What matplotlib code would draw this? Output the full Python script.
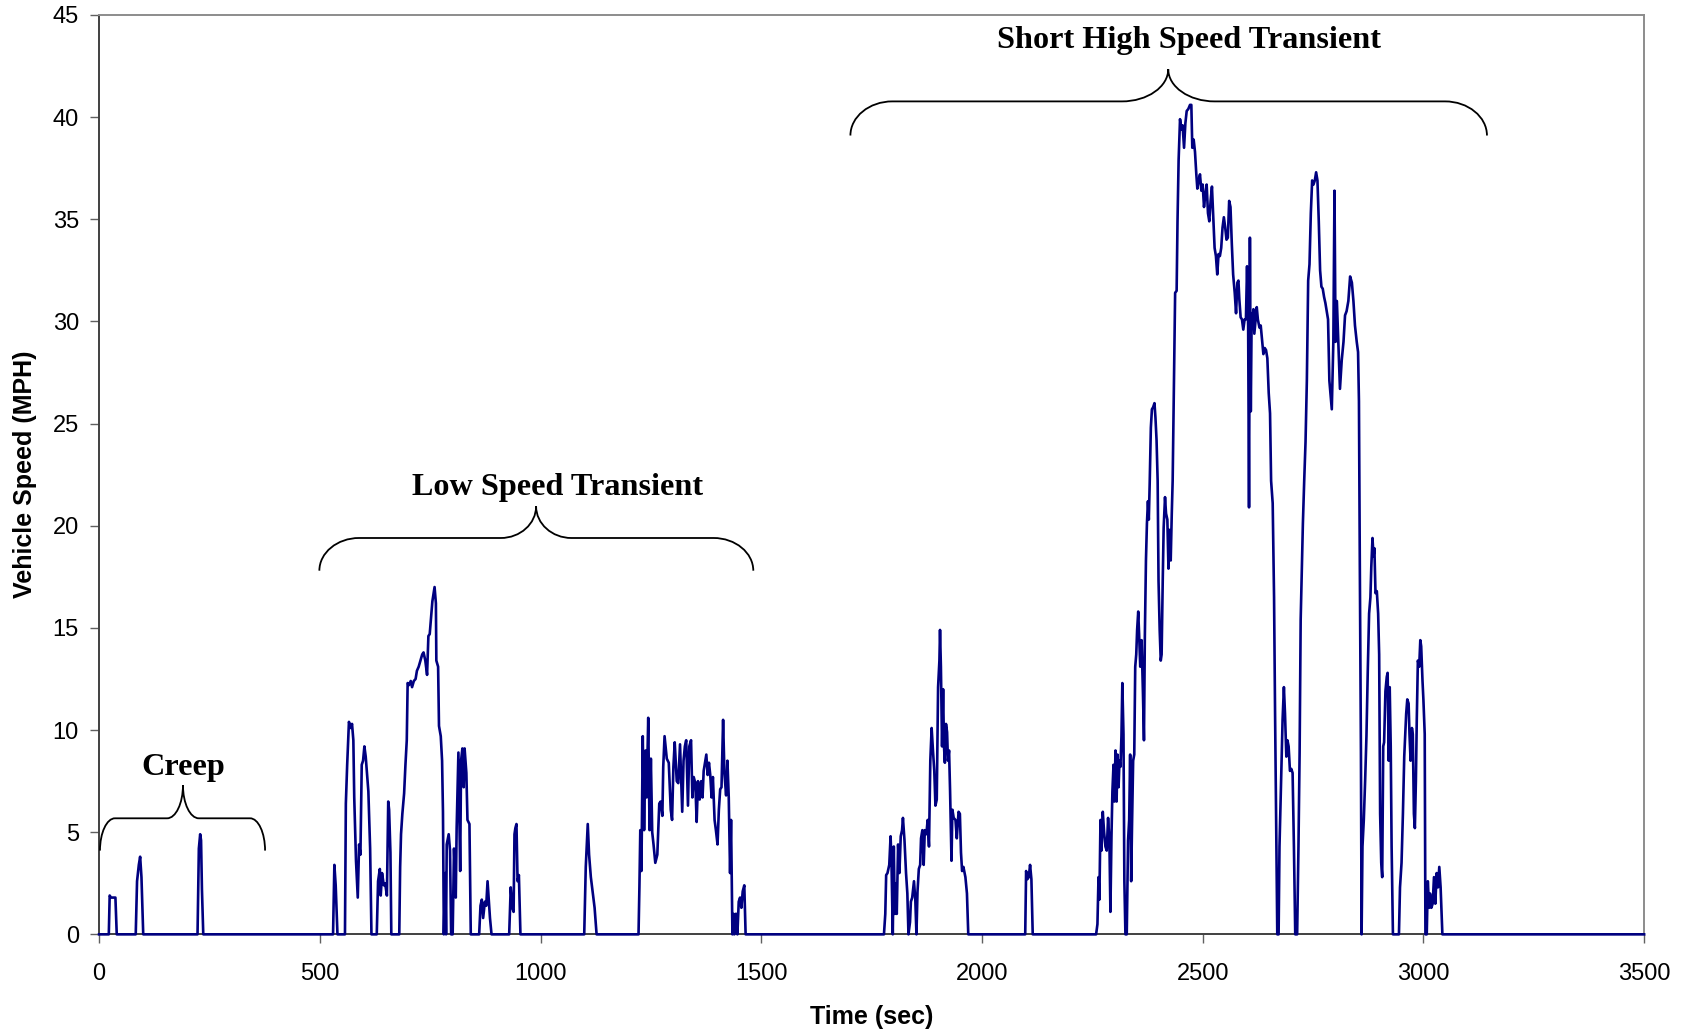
import numpy as np
import matplotlib
matplotlib.use("Agg")
import matplotlib.pyplot as plt
from matplotlib.path import Path
from matplotlib.patches import PathPatch

# ---- drive cycle trace as (time sec, speed MPH) samples, grouped by phase ----
creep_trace = [
    (0, 0), (22, 0), (24, 1.9), (27, 1.8), (37, 1.8), (40, 0),
    (83, 0), (86, 2.6), (90, 3.4), (93, 3.8), (96, 2.8), (100, 0),
    (223, 0), (226, 4.2), (229, 4.9), (231, 4.6), (233, 2.2), (236, 0),
]

low_speed_trace = [
    (530, 0), (533, 3.4), (536, 2.4), (540, 0),
    (557, 0), (559, 6.4), (562, 8.3), (566, 10.4), (570, 10.1), (573, 10.3), (576, 9.5),
    (578, 6.7), (582, 3.6), (586, 1.8), (589, 4.4), (592, 3.9), (595, 8.3), (598, 8.5),
    (601, 9.2), (604, 8.7), (610, 7.0), (614, 4.2), (617, 0),
    (629, 0), (632, 2.6), (636, 3.2), (638, 1.9), (641, 3.0), (645, 2.4), (648, 2.5),
    (652, 1.9), (655, 6.5), (657, 6.1), (660, 4.0), (662, 0),
    (680, 0), (682, 3.3), (684, 4.9), (687, 5.9), (691, 6.9), (694, 8.3), (697, 9.5),
    (699, 12.3), (702, 12.2), (706, 12.4), (709, 12.1), (713, 12.4), (717, 12.5), (720, 12.9),
    (724, 13.1), (728, 13.4), (732, 13.7), (735, 13.8), (739, 13.4), (743, 12.7), (746, 14.6),
    (749, 14.7), (752, 15.5), (755, 16.3), (760, 17.0), (763, 16.2), (764, 13.4), (768, 13.1),
    (770, 10.2), (774, 9.7), (777, 8.5), (779, 6.0), (781, 0), (784, 3.0), (786, 0),
    (787.5, 4.4), (792, 4.9), (795, 4.1), (797.5, 0), (801, 0), (804, 4.2), (808, 1.8),
    (810, 5.2), (814, 8.9), (818, 3.1), (820, 8.5), (823, 9.1), (826, 7.2), (828, 9.1),
    (832, 7.9), (834.5, 5.6), (839, 5.4), (842, 0),
    (861, 0), (864, 1.4), (867, 1.7), (870, 0.8), (874, 1.6), (877, 1.4), (880, 2.6),
    (883, 1.6), (885.5, 0.8), (889, 0),
    (929, 0), (932.5, 2.3), (936, 1.3), (939, 1.1), (941, 4.9), (943, 5.2), (945.5, 5.4),
    (948, 2.6), (951, 2.9), (954.5, 0),
    (1099, 0), (1102.5, 3.3), (1107, 5.4), (1110, 3.9), (1114, 2.8), (1118, 2.1),
    (1122.5, 1.3), (1125, 0.6), (1127, 0),
    (1222, 0), (1224, 2.3), (1226, 5.1), (1228.6, 3.1), (1231.6, 9.7), (1234.6, 5.1),
    (1238, 9.0), (1240.4, 6.7), (1244, 10.6), (1247, 5.1), (1250, 8.6), (1253, 5.0),
    (1256, 4.4), (1260, 3.5), (1264.6, 3.9), (1269, 6.4), (1272, 6.5), (1276, 5.8),
    (1278, 8.2), (1281, 9.7), (1286, 8.6), (1290.5, 8.4), (1295, 6.1), (1298, 5.6),
    (1301, 8.2), (1304, 9.4), (1308.6, 7.5), (1312, 7.4), (1316, 9.3), (1321, 6.0),
    (1324, 8.5), (1327, 9.2), (1330, 9.5), (1334, 6.3), (1337, 9.2), (1341, 9.5),
    (1344, 6.7), (1347, 7.7), (1350.7, 7.4), (1353.7, 5.5), (1356.7, 7.5), (1360.5, 6.6),
    (1364, 7.5), (1367, 6.7), (1369.6, 8.0), (1372.6, 8.4), (1375.6, 8.8), (1378.6, 7.8),
    (1381.6, 8.4), (1384.5, 7.8), (1387.5, 6.7), (1390.5, 7.7), (1394.3, 5.6), (1397.3, 5.1),
    (1401, 4.4), (1404, 6.1), (1407, 7.1), (1410, 7.2), (1413.6, 10.5), (1416.6, 7.9),
    (1420.4, 6.8), (1423.4, 8.5), (1426.4, 6.7), (1429.4, 3.0), (1431.6, 5.6), (1434.7, 0),
    (1437, 1.0), (1439, 0), (1441.5, 1.0), (1444, 1.0), (1446, 0), (1449, 1.6), (1452, 1.8),
    (1455, 1.3), (1458, 2.1), (1461.6, 2.4), (1464.6, 0),
]

high_speed_trace = [
    (1778, 0), (1781, 1.0), (1783, 2.9), (1786, 3.0), (1790, 3.4), (1793, 4.8), (1795, 3.6),
    (1798, 0), (1800.3, 4.3), (1802.5, 1.0), (1804.8, 2.5), (1807, 1.0), (1810, 4.4),
    (1813, 3.0), (1816, 4.8), (1819, 5.1), (1821, 5.7), (1824.5, 4.6), (1828, 3.0),
    (1831, 2.0), (1833.5, 0), (1837, 0.6), (1839, 1.6), (1842, 1.8), (1846, 2.6), (1849, 1.7),
    (1851.6, 0), (1854, 2.1), (1857, 3.2), (1860, 3.4), (1862, 4.7), (1865, 5.1), (1868, 3.4),
    (1870.5, 5.1), (1874, 4.9), (1877, 5.6), (1880, 4.3), (1883, 8.5), (1886, 10.1),
    (1889, 9.0), (1892, 8.0), (1894.6, 6.3), (1897.6, 6.6), (1900.6, 12.1), (1903.6, 13.4),
    (1905, 14.9), (1907, 13.1), (1909.6, 9.2), (1912, 12.0), (1914, 9.2), (1916, 8.4),
    (1918.5, 10.3), (1921, 9.9), (1923, 8.5), (1925.5, 9.0), (1927.8, 7.0), (1931, 3.6),
    (1933, 6.1), (1936, 5.7), (1940, 5.6), (1943, 4.7), (1947, 6.0), (1950, 5.9),
    (1952.5, 4.0), (1955, 3.1), (1958, 3.3), (1962.5, 2.8), (1966, 2.0), (1969, 0),
    (2098, 0), (2100, 3.1), (2103, 2.7), (2106, 2.8), (2109, 3.4), (2112, 2.7), (2115, 0),
    (2258.6, 0), (2261.6, 0.5), (2264, 2.8), (2266, 1.7), (2268.5, 5.6), (2270.7, 4.1),
    (2273.7, 6.0), (2276.7, 5.0), (2279.7, 4.3), (2282.7, 4.1), (2285.7, 5.7), (2288.7, 4.6),
    (2291, 1.1), (2293.4, 4.8), (2295.5, 7.0), (2298, 8.3), (2300, 6.5), (2302.5, 9.0),
    (2305, 6.5), (2307, 8.8), (2309.5, 7.2), (2311.5, 8.5), (2313.7, 8.2), (2316, 9.7),
    (2318, 12.3), (2320.6, 9.8), (2322.6, 2.6), (2325, 0), (2328, 0), (2331, 4.6),
    (2333.5, 5.6), (2335.7, 8.8), (2338, 2.6), (2340, 5.4), (2342.5, 8.5), (2345, 8.8),
    (2347.2, 13.1), (2349.5, 13.7), (2351.5, 14.9), (2354, 15.8), (2356, 14.7),
    (2358.6, 13.1), (2361.6, 14.4), (2364.7, 11.8), (2367, 9.5), (2369, 14.6),
    (2371.5, 18.3), (2373.7, 20.1), (2376, 21.2), (2378, 20.3), (2380, 22.1),
    (2382.6, 24.8), (2385, 25.7), (2387.8, 25.8), (2390.8, 26.0), (2393, 25.3),
    (2395.5, 24.2), (2398, 22.2), (2400, 17.3), (2402.6, 14.9), (2405, 13.4), (2407, 13.7),
    (2409.5, 17.3), (2411.6, 19.9), (2414.7, 21.4), (2417, 20.6), (2420, 20.3),
    (2422.5, 17.9), (2424.5, 19.8), (2427.6, 18.3), (2430, 20.6), (2432, 22.2), (2435, 27.1),
    (2437.6, 31.4), (2441, 31.5), (2443, 34.9), (2445.5, 37.9), (2448.7, 39.9),
    (2451.7, 39.4), (2454.5, 39.6), (2457.8, 38.5), (2460.8, 39.7), (2463.8, 40.3),
    (2467.5, 40.4), (2471.3, 40.6), (2474.3, 40.6), (2476.5, 38.5), (2479.6, 38.9),
    (2482.6, 38.3), (2485.6, 37.2), (2487.9, 36.5), (2490.9, 36.9), (2493.9, 37.2),
    (2497, 36.4), (2500, 36.7), (2503, 35.6), (2506, 36.2), (2509, 36.7), (2512, 35.3),
    (2515, 34.9), (2518, 35.9), (2521, 36.6), (2524, 35.1), (2527, 33.6), (2530, 33.2),
    (2533, 32.3), (2536, 33.3), (2539, 33.2), (2542, 33.6), (2545, 34.6), (2548, 35.1),
    (2551, 34.6), (2554, 34.0), (2557, 34.1), (2560, 35.9), (2563, 35.6), (2566, 33.8),
    (2569, 32.3), (2572.6, 31.4), (2575.6, 30.4), (2578.6, 31.9), (2581, 32.0), (2583, 31.1),
    (2586, 30.2), (2589, 30.1), (2592, 29.6), (2595, 30.1), (2598, 30.1), (2600.5, 32.7),
    (2603, 29.8), (2605, 20.9), (2607, 34.1), (2609, 25.6), (2611, 30.4), (2613, 30.1),
    (2615, 30.6), (2617, 29.4), (2620, 30.1), (2622.5, 30.7), (2625, 30.1), (2628.6, 29.7),
    (2631.5, 29.8), (2634.5, 29.1), (2637.5, 28.4), (2640.5, 28.7), (2643.5, 28.6),
    (2646.5, 28.2), (2649.6, 26.5), (2652.6, 25.5), (2655, 22.2), (2658.6, 21.1),
    (2661.7, 16.5), (2664, 10.8), (2669, 0), (2672, 0), (2674, 4.3), (2676.6, 6.5),
    (2679, 8.7), (2681, 10.5), (2684, 12.1), (2686.5, 10.8), (2689.5, 8.7), (2692, 9.5),
    (2694.7, 9.2), (2697.7, 8.0), (2700.7, 8.1), (2703.7, 7.9), (2706.7, 4.3), (2709.7, 0),
    (2714, 0), (2717, 4.3), (2719.6, 8.9), (2722, 15.4), (2725, 18.1), (2727, 20.1),
    (2730, 22.2), (2733, 24.1), (2736, 27.1), (2739, 32.0), (2742, 32.8), (2745, 35.3),
    (2748, 36.9), (2751, 36.7), (2754, 36.9), (2757, 37.3), (2760, 36.9), (2763, 34.9),
    (2766, 32.5), (2769, 31.7), (2772, 31.6), (2775, 31.2), (2778, 30.9), (2781, 30.5),
    (2784, 30.1), (2787, 27.1), (2792.5, 25.7), (2796, 29.0), (2798.6, 36.4), (2801, 29.0),
    (2804, 31.0), (2807.5, 28.8), (2811, 26.7), (2815, 28.1), (2819, 29.0), (2822.5, 30.3),
    (2826, 30.5), (2830, 31.0), (2834, 32.2), (2838, 31.9), (2841.5, 31.0), (2845, 29.8),
    (2849, 29.0), (2852, 28.5), (2854, 26.1), (2856, 18.0), (2858.5, 8.9), (2860, 0),
    (2862, 4.3), (2865, 5.6), (2868, 7.5), (2871, 9.7), (2874, 12.9), (2877, 15.7),
    (2880, 16.5), (2882, 18.0), (2884.7, 19.4), (2887, 18.5), (2889, 18.9), (2891.5, 16.7),
    (2894.5, 16.8), (2897.5, 15.7), (2899.8, 13.7), (2902, 5.9), (2904.5, 3.5),
    (2906.7, 2.8), (2909, 9.2), (2911, 9.4), (2914, 11.9), (2917, 12.6), (2919, 12.8),
    (2921.5, 8.5), (2923.7, 12.1), (2926, 9.2), (2928, 4.3), (2931, 0), (2944.6, 0),
    (2947, 2.3), (2950.5, 3.5), (2953.6, 5.9), (2956.6, 8.7), (2959, 9.8), (2961, 10.8),
    (2963.5, 11.5), (2966.5, 11.3), (2968.5, 9.8), (2971, 8.5), (2974, 10.1), (2976, 9.8),
    (2978.5, 5.9), (2980.7, 5.2), (2983, 7.5), (2985, 10.5), (2987.5, 13.4), (2990.5, 13.1),
    (2993, 14.4), (2995, 14.1), (2998, 12.4), (3000, 11.5), (3003, 9.8), (3004.6, 0),
    (3007.6, 0), (3010, 2.6), (3013, 1.3), (3015, 2.0), (3018, 1.3), (3021, 1.5),
    (3024, 2.8), (3027, 1.5), (3030, 3.0), (3033, 2.3), (3036, 3.3), (3039, 2.3), (3043, 0),
    (3500, 0),
]

x_ticks = [0, 500, 1000, 1500, 2000, 2500, 3000, 3500]
y_ticks = [0, 5, 10, 15, 20, 25, 30, 35, 40, 45]

# phase labels with their brace geometry (data units):
# label, left end, right end, apex x, end y, bar y, apex y, end radius, apex radius, text x, text y
phase_labels = [
    ("Creep", 2, 376, 190, 4.1, 5.68, 7.3, 34, 36, 190, 7.8),
    ("Low Speed Transient", 499, 1482, 990, 17.8, 19.4, 20.95, 90, 80, 1039, 21.5),
    ("Short High Speed Transient", 1702, 3144, 2422, 39.1, 40.77, 42.35, 95, 105, 2470, 43.4),
]

trace = np.array(creep_trace + low_speed_trace + high_speed_trace, dtype=float)
time, speed = trace[:, 0], trace[:, 1]

fig = plt.figure(figsize=(16.88, 10.33), dpi=100)
ax = fig.add_axes([0.0587, 0.0955, 0.9153, 0.890])

ax.plot(time, speed, color="#000080", lw=1.9, zorder=3, clip_on=False)

ax.set_xlim(0, 3500)
ax.set_ylim(0, 45)
ax.set_xticks(x_ticks)
ax.set_yticks(y_ticks)

tick_font = dict(family="Liberation Sans", size=17)
ax.set_xticklabels([str(v) for v in x_ticks], **tick_font)
ax.set_yticklabels([str(v) for v in y_ticks], **tick_font)
ax.tick_params(axis="both", direction="out", length=6.5, width=1.0, color="#606060")
ax.tick_params(axis="x", pad=14)
ax.tick_params(axis="y", pad=8)

for side in ("top", "right"):
    ax.spines[side].set_color("#8c8c8c")
    ax.spines[side].set_linewidth(1.4)
for side in ("left", "bottom"):
    ax.spines[side].set_color("#404040")
    ax.spines[side].set_linewidth(1.4)

label_font = dict(family="Liberation Sans", size=18, weight="bold")
ax.set_xlabel("Time (sec)", labelpad=14.5, **label_font)
ax.set_ylabel("Vehicle Speed (MPH)", labelpad=11, **label_font)


def brace(ax, x0, x1, xc, y_end, y_bar, y_apex, r_end, r_mid):
    k = 0.55
    verts = [
        (x0, y_end),
        (x0, y_end + k * (y_bar - y_end)), (x0 + (1 - k) * r_end, y_bar), (x0 + r_end, y_bar),
        (xc - r_mid, y_bar),
        (xc - (1 - k) * r_mid, y_bar), (xc, y_bar + (1 - k) * (y_apex - y_bar)), (xc, y_apex),
        (xc, y_bar + (1 - k) * (y_apex - y_bar)), (xc + (1 - k) * r_mid, y_bar), (xc + r_mid, y_bar),
        (x1 - r_end, y_bar),
        (x1 - (1 - k) * r_end, y_bar), (x1, y_end + k * (y_bar - y_end)), (x1, y_end),
    ]
    codes = [Path.MOVETO,
             Path.CURVE4, Path.CURVE4, Path.CURVE4,
             Path.LINETO,
             Path.CURVE4, Path.CURVE4, Path.CURVE4,
             Path.CURVE4, Path.CURVE4, Path.CURVE4,
             Path.LINETO,
             Path.CURVE4, Path.CURVE4, Path.CURVE4]
    ax.add_patch(PathPatch(Path(verts, codes), facecolor="none", edgecolor="black",
                           lw=1.3, zorder=4, clip_on=False))


for name, x0, x1, xc, y_end, y_bar, y_apex, r_end, r_mid, tx, ty in phase_labels:
    brace(ax, x0, x1, xc, y_end, y_bar, y_apex, r_end, r_mid)
    ax.text(tx, ty, name, ha="center", va="baseline",
            family="Liberation Serif", weight="bold", size=23.2, zorder=5)

fig.savefig("out.png", dpi=100)
